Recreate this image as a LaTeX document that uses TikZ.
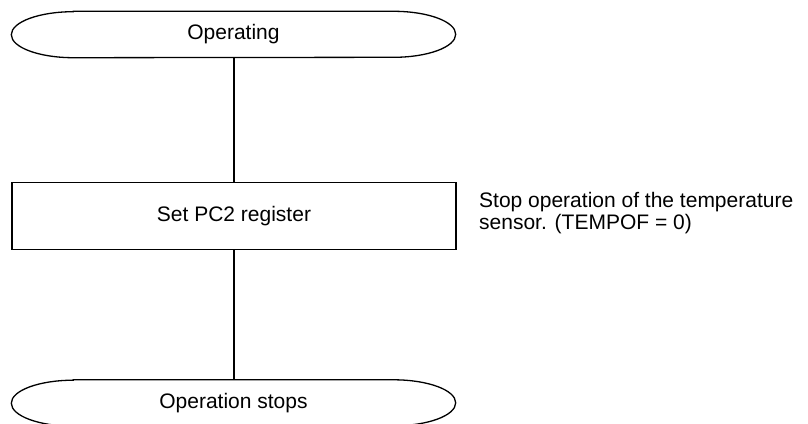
\documentclass[tikz,border=0pt]{standalone}
\usepackage{fontspec}
\setmainfont{Liberation Sans}
\begin{document}
\begin{tikzpicture}[x=1pt,y=-1pt,
  line/.style={draw=black, line width=1.3pt},
  txt/.style={font=\fontsize{21}{21.5}\selectfont, inner sep=0pt},
  terminal/.style={txt, minimum width=444pt, minimum height=46pt},
  procbox/.style={txt, line, minimum width=444pt, minimum height=67pt}]
\useasboundingbox[fill=white] (0,0) rectangle (808,423);
\clip (0,0) rectangle (808,423);
\newcommand\termoutline[1]{%
  \draw[line] ([xshift=62pt]#1.north west) -- ([xshift=-62pt]#1.north east)
    arc[start angle=90, end angle=-90, x radius=62pt, y radius=23pt]
    -- ([xshift=62pt]#1.south west)
    arc[start angle=270, end angle=90, x radius=62pt, y radius=23pt] -- cycle;}
\node[terminal] (op) at (233.5,34.5) {Operating};
\node[procbox] (set) at (234,216) {Set PC2 register};
\node[terminal] (stop) at (233.5,403) {Operation stops};
\termoutline{op}
\termoutline{stop}
\draw[line] (op.south -| set.north) -- (set.north);
\draw[line] (set.south) -- (stop.north -| set.south);
\node[txt, anchor=north west, align=left] (note) at (479,192.5)
  {Stop operation of the temperature\\sensor. (TEMPOF = 0)};
\end{tikzpicture}
\end{document}
